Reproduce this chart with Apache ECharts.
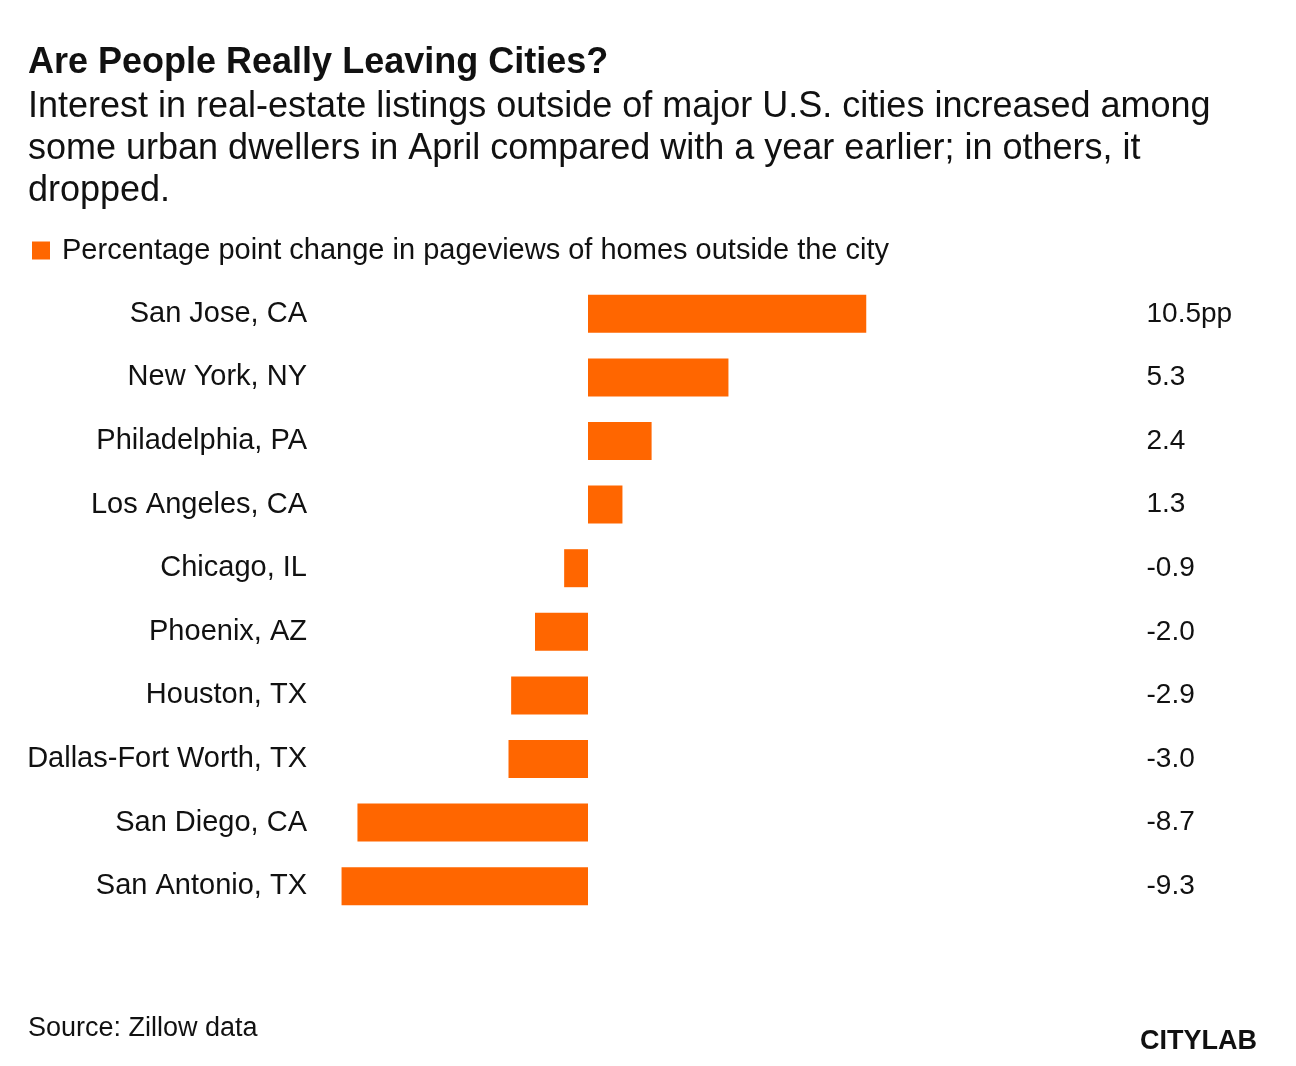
<!DOCTYPE html>
<html>
<head>
<meta charset="utf-8">
<script src="https://cdn.jsdelivr.net/npm/echarts@6/dist/echarts.min.js"></script>
<style>
html,body{margin:0;padding:0;background:#fff;}
#chart{width:1296px;height:1066px;}
</style>
</head>
<body>
<div id="chart"></div>
<script>
var cities = ['San Jose, CA','New York, NY','Philadelphia, PA','Los Angeles, CA','Chicago, IL','Phoenix, AZ','Houston, TX','Dallas-Fort Worth, TX','San Diego, CA','San Antonio, TX'];
var changes = [10.5, 5.3, 2.4, 1.3, -0.9, -2.0, -2.9, -3.0, -8.7, -9.3];
var valueLabels = ['10.5pp','5.3','2.4','1.3','-0.9','-2.0','-2.9','-3.0','-8.7','-9.3'];

var FONT = '"Liberation Sans", Arial, Helvetica, sans-serif';
var chart = echarts.init(document.getElementById('chart'));
chart.setOption({
  animation: false,
  backgroundColor: '#fff',
  textStyle: {fontFamily: FONT},
  legend: {
    left: 32, top: 236,
    icon: 'rect', itemWidth: 18, itemHeight: 18, itemGap: 10, padding: 0,
    textStyle: {fontSize: 29, color: '#111', fontFamily: FONT, padding: [0, 0, 0, 7]},
    data: ['Percentage point change in pageviews of homes outside the city']
  },
  grid: {left: 323, top: 282, width: 556.5, height: 636},
  xAxis: {type: 'value', min: -10, max: 11, show: false},
  yAxis: [{
    type: 'category', inverse: true, data: cities,
    axisLine: {show: false, onZero: false}, axisTick: {show: false},
    axisLabel: {margin: 16, fontSize: 29, color: '#111', fontFamily: FONT, padding: [2, 0, 0, 0]}
  }, {
    type: 'category', inverse: true, position: 'right', data: valueLabels,
    axisLine: {show: false, onZero: false}, axisTick: {show: false},
    axisLabel: {margin: 267, fontSize: 28, color: '#111', fontFamily: FONT, align: 'left', padding: [5, 0, 0, 0]}
  }],
  series: [{
    name: 'Percentage point change in pageviews of homes outside the city',
    type: 'bar', data: changes, barWidth: 38,
    itemStyle: {color: '#ff6600'}
  }],
  graphic: [
    {type: 'text', x: 28, y: 45, style: {x: 0, y: 0, text: 'Are People Really Leaving Cities?', font: 'bold 36px ' + FONT, fill: '#111'}},
    {type: 'text', x: 28, y: 86, style: {x: 0, y: 0, text: 'Interest in real-estate listings outside of major U.S. cities increased among\nsome urban dwellers in April compared with a year earlier; in others, it\ndropped.', font: '36px ' + FONT, fill: '#111', lineHeight: 42}},
    {type: 'text', x: 28, y: 1015, style: {x: 0, y: 0, text: 'Source: Zillow data', font: '27px ' + FONT, fill: '#111'}},
    {type: 'text', x: 1140, y: 1028, style: {x: 0, y: 0, text: 'CITYLAB', font: '900 27px ' + FONT, fill: '#111'}}
  ]
});
</script>
</body>
</html>
